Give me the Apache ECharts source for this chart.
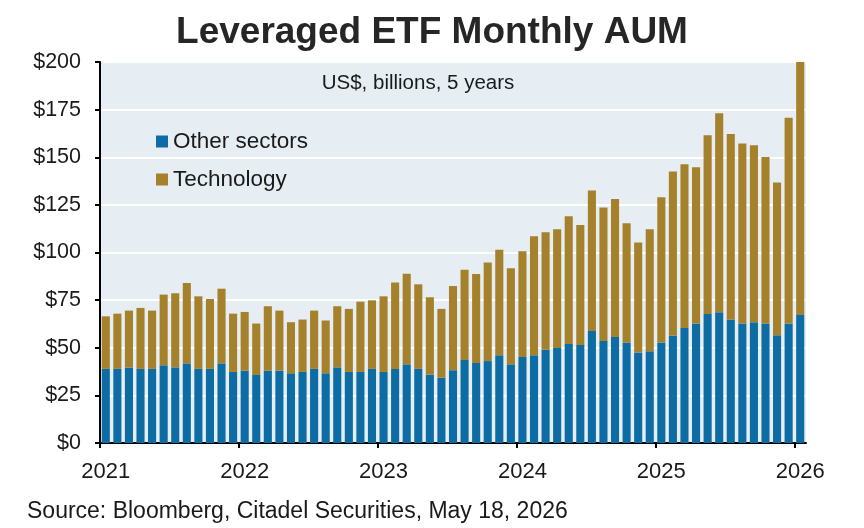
<!DOCTYPE html>
<html>
<head>
<meta charset="utf-8">
<script src="https://cdn.jsdelivr.net/npm/echarts@6/dist/echarts.min.js"></script>
<style>html,body{margin:0;padding:0;background:#fff}#c{width:864px;height:528px}</style>
</head>
<body>
<div id="c"></div>
<script>
var months = [
 '2021-01','2021-02','2021-03','2021-04','2021-05','2021-06','2021-07','2021-08','2021-09','2021-10','2021-11','2021-12',
 '2022-01','2022-02','2022-03','2022-04','2022-05','2022-06','2022-07','2022-08','2022-09','2022-10','2022-11','2022-12',
 '2023-01','2023-02','2023-03','2023-04','2023-05','2023-06','2023-07','2023-08','2023-09','2023-10','2023-11','2023-12',
 '2024-01','2024-02','2024-03','2024-04','2024-05','2024-06','2024-07','2024-08','2024-09','2024-10','2024-11','2024-12',
 '2025-01','2025-02','2025-03','2025-04','2025-05','2025-06','2025-07','2025-08','2025-09','2025-10','2025-11','2025-12',
 '2026-01'
];
var otherSectors = [
 38.9,38.9,39.6,38.9,38.9,40.8,39.7,41.8,38.9,38.9,41.8,37.3,
 38.0,35.7,38.0,38.0,36.6,37.3,38.9,36.6,39.7,37.3,37.3,38.9,
 37.3,38.9,41.3,38.9,35.9,34.3,38.2,43.6,42.0,43.0,46.0,41.3,
 45.1,46.0,49.0,49.9,52.0,51.5,58.8,53.5,55.6,52.7,47.5,48.1,
 52.7,56.4,60.4,62.7,67.7,68.6,64.8,62.7,63.4,62.7,56.5,62.7,
 67.2
];
var technology = [
 27.6,29.0,29.9,32.0,30.6,37.1,38.9,42.2,38.1,36.7,39.2,30.6,
 30.8,27.0,33.8,31.5,26.8,27.5,30.6,27.7,32.1,33.1,36.9,36.0,
 39.7,45.3,47.6,44.4,40.6,36.1,44.2,47.4,46.7,51.7,55.5,50.4,
 55.5,62.5,61.6,62.3,67.0,62.9,73.7,70.1,72.5,62.6,57.7,64.1,
 76.3,86.1,85.9,82.0,93.8,104.5,97.4,94.5,92.9,87.4,80.2,108.1,
 132.8
];
var yearLabels = ['2021','2022','2023','2024','2025','2026'];
var yearTickPositions = [0,12,24,36,48,60];
var yearLabelPositions = [0.5,12.5,24.5,36.5,48.5,60.5];

var FONT = '"Liberation Sans", Arial, sans-serif';
var chart = echarts.init(document.getElementById('c'), null, {renderer:'canvas'});
chart.setOption({
  animation: false,
  backgroundColor: '#ffffff',
  textStyle: {fontFamily: FONT},
  title: [{
    text: 'Leveraged ETF Monthly AUM',
    left: 'center', top: 9,
    textStyle: {fontFamily: FONT, fontSize: 37, fontWeight: 'bold', color: '#262626'}
  }],
  graphic: [
    {type:'text', x: 418, y: 73, style:{text:'US$, billions, 5 years', font:'20.5px ' + FONT, fill:'#1a1a1a', textAlign:'center'}, z: 100},
    {type:'text', x: 27, y: 500, style:{text:'Source: Bloomberg, Citadel Securities, May 18, 2026', font:'23px ' + FONT, fill:'#1a1a1a'}}
  ],
  legend: {
    orient: 'vertical', left: 151, top: 125,
    itemWidth: 12, itemHeight: 12, itemGap: 15,
    icon: 'rect',
    textStyle: {fontFamily: FONT, fontSize: 22.5, color: '#1a1a1a'},
    data: ['Other sectors', 'Technology']
  },
  grid: {
    left: 100, right: 58, top: 62, bottom: 85,
    show: true, backgroundColor: '#E6EEF4', borderWidth: 0
  },
  xAxis: [{
    type: 'category', data: months, boundaryGap: true,
    axisLine: {show: false}, axisTick: {show: false}, axisLabel: {show: false}, splitLine: {show: false}
  }, {
    type: 'value', min: 0, max: 61, position: 'bottom',
    axisLine: {show: true, lineStyle: {color: '#000', width: 2}},
    axisTick: {show: true, length: 5, customValues: yearTickPositions, lineStyle: {color: '#000', width: 2}},
    axisLabel: {
      customValues: yearLabelPositions, margin: 18,
      fontFamily: FONT, fontSize: 22, color: '#1a1a1a',
      formatter: function (v) { var i = yearLabelPositions.indexOf(v); return i >= 0 ? yearLabels[i] : ''; }
    },
    splitLine: {show: false}
  }],
  yAxis: {
    type: 'value', min: 0, max: 200, interval: 25,
    axisLine: {show: true, lineStyle: {color: '#000', width: 2}},
    axisTick: {show: true, length: 5, lineStyle: {color: '#000', width: 2}},
    axisLabel: {margin: 19, fontFamily: FONT, fontSize: 21.5, color: '#1a1a1a', formatter: function (v) { return '$' + v; }},
    splitLine: {show: true, lineStyle: {color: '#ffffff', width: 2}}
  },
  series: [{
    name: 'Other sectors', type: 'bar', stack: 'aum', xAxisIndex: 0,
    data: otherSectors, barWidth: '70%', itemStyle: {color: '#0C6CA3'}
  }, {
    name: 'Technology', type: 'bar', stack: 'aum', xAxisIndex: 0,
    data: technology, barWidth: '70%', itemStyle: {color: '#A5812C'}
  }]
});
</script>
</body>
</html>
